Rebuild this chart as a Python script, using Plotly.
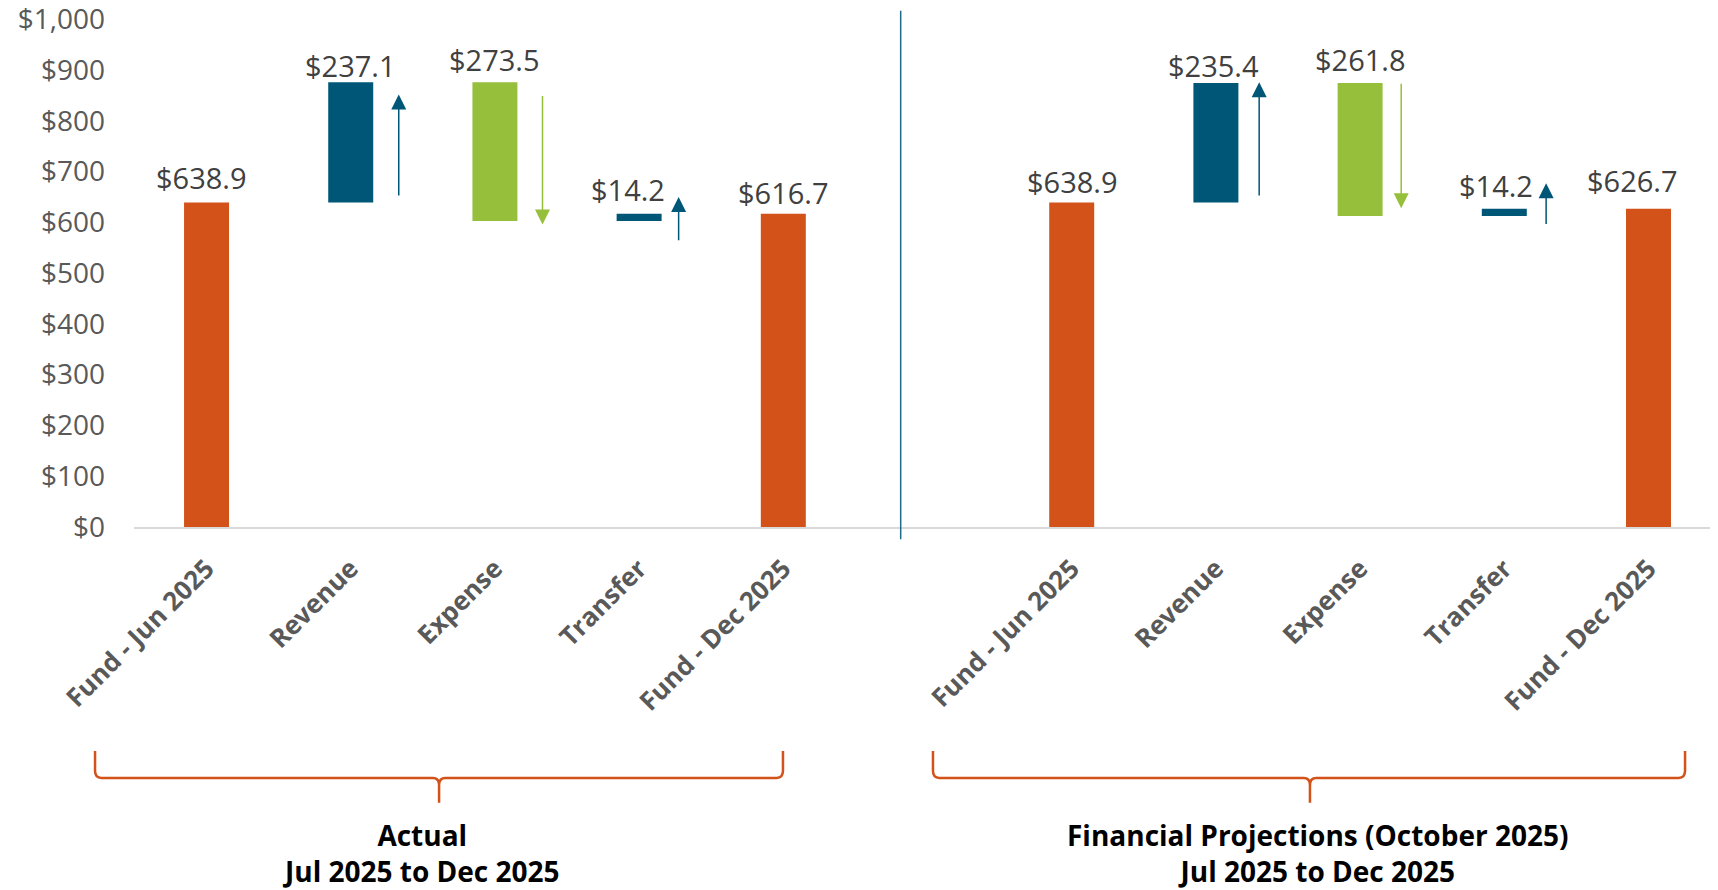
import plotly.graph_objects as go

# ---------------- data ----------------
categories = ["Fund - Jun 2025", "Revenue", "Expense", "Transfer", "Fund - Dec 2025"]
measures = ["total", "increase", "decrease", "increase", "total"]

actual_values = [638.9, 237.1, 273.5, 14.2, 616.7]
projection_values = [638.9, 235.4, 261.8, 14.2, 626.7]

panel_titles = ["Actual", "Financial Projections (October 2025)"]
panel_periods = ["Jul 2025 to Dec 2025", "Jul 2025 to Dec 2025"]

# decorative direction arrows (value at tail, value at head) for Revenue, Expense, Transfer
actual_arrow_tail = [650, 852, 562]
actual_arrow_head = [852, 596, 650]
projection_arrow_tail = [650, 876, 594]
projection_arrow_head = [876, 628, 677]

y_ticks = [0, 100, 200, 300, 400, 500, 600, 700, 800, 900, 1000]
y_ticktext = [f"${v:,}" for v in y_ticks]

# ---------------- style ----------------
C_TOTAL = "#D35219"
C_UP = "#005677"
C_DOWN = "#96C03B"
FONT = "Open Sans"
BAR_W = 0.312
panel_x0 = [0, 6]
arrow_dx = [[0.333, 0.33, 0.274], [0.30, 0.285, 0.29]]
label_dx = [[-5, 0, 0, -11, 0], [1, -2, 0, -8, -16]]
label_dy = [[4, -5, 1, 3, 0], [0, -4, 2, 2, 7]]


def floating(values, kinds):
    bases, heights, cur = [], [], 0.0
    for v, k in zip(values, kinds):
        if k == "total":
            bases.append(0.0); heights.append(v); cur = v
        elif k == "increase":
            bases.append(cur); heights.append(v); cur += v
        else:
            bases.append(cur - v); heights.append(v); cur -= v
    return bases, heights


color_of = {"total": C_TOTAL, "increase": C_UP, "decrease": C_DOWN}

fig = go.Figure()
annotations = []
panels = [(actual_values, actual_arrow_tail, actual_arrow_head),
          (projection_values, projection_arrow_tail, projection_arrow_head)]

tickvals, ticktext = [], []
for p, (vals, a_tail, a_head) in enumerate(panels):
    xs = [panel_x0[p] + i for i in range(len(categories))]
    bases, heights = floating(vals, measures)
    fig.add_trace(go.Bar(
        x=xs, y=heights, base=bases, width=BAR_W,
        marker=dict(color=[color_of[m] for m in measures], line=dict(width=0)),
        hoverinfo="skip", showlegend=False,
    ))
    tickvals += xs
    ticktext += [f"<b>{c}</b>" for c in categories]
    for i, (x, b, h) in enumerate(zip(xs, bases, heights)):
        annotations.append(dict(
            x=x, y=b + h, xref="x", yref="y", text=f"${vals[i]:,.1f}",
            showarrow=False, yanchor="bottom", yshift=label_dy[p][i], xshift=label_dx[p][i],
            font=dict(family=FONT, size=29, color="#404040"),
        ))
    for j, idx in enumerate([1, 2, 3]):
        col = color_of[measures[idx]]
        ax_x = xs[idx] + arrow_dx[p][j]
        annotations.append(dict(
            x=ax_x, y=a_head[j], ax=ax_x, ay=a_tail[j],
            xref="x", yref="y", axref="x", ayref="y", text="",
            showarrow=True, arrowhead=2, arrowsize=2.0, arrowwidth=1.5,
            arrowcolor=col, standoff=0, startstandoff=0,
        ))

# panel captions (two lines each)
caption_x = [1.487, 7.705]
for p in range(2):
    annotations.append(dict(
        x=caption_x[p], y=-0.6417, xref="x", yref="paper",
        text=f"<b>{panel_titles[p]}<br>{panel_periods[p]}</b>",
        showarrow=False, xanchor="center", yanchor="middle", align="center",
        font=dict(family=FONT, size=28, color="#000000"), borderpad=0,
    ))

# brackets under each panel (paper units)
shapes = []
brackets = [(-0.0246, 0.4097, 0.1926), (0.5044, 0.9792, 0.7424)]
y_top, y_line, y_tip = -0.441, -0.494, -0.543
rx, ry = 0.004, 0.014
for x0, x1, xc in brackets:
    path = (f"M {x0},{y_top} L {x0},{y_line + ry} Q {x0},{y_line} {x0 + rx},{y_line} "
            f"L {xc - rx},{y_line} Q {xc},{y_line} {xc},{y_line - ry} L {xc},{y_tip} "
            f"M {xc},{y_line - ry} Q {xc},{y_line} {xc + rx},{y_line} "
            f"L {x1 - rx},{y_line} Q {x1},{y_line} {x1},{y_line + ry} L {x1},{y_top}")
    shapes.append(dict(type="path", path=path, xref="paper", yref="paper",
                       line=dict(color=C_TOTAL, width=2.5)))

# divider between panels
shapes.append(dict(type="line", x0=4.814, x1=4.814, y0=-0.024, y1=1.016,
                   xref="x", yref="paper", line=dict(color="#1F6A8A", width=1.5)))

fig.update_layout(
    width=1710, height=882,
    margin=dict(l=126, r=0, t=11, b=363, autoexpand=False),
    plot_bgcolor="white", paper_bgcolor="white",
    font=dict(family=FONT),
    barmode="overlay",
    annotations=annotations, shapes=shapes,
    xaxis=dict(
        range=[-0.503, 10.482], tickvals=tickvals, ticktext=ticktext,
        tickangle=-45, tickfont=dict(family=FONT, size=26, color="#595959"),
        showgrid=False, zeroline=False, showline=True, linecolor="#D9D9D9", linewidth=2,
        ticks="", ticklabelstandoff=14, fixedrange=True, automargin=False,
    ),
    yaxis=dict(
        range=[0, 1000.5], tickvals=y_ticks, ticktext=y_ticktext,
        tickfont=dict(family=FONT, size=28, color="#595959"),
        showgrid=False, zeroline=False, showline=False, ticks="",
        ticklabelstandoff=28, fixedrange=True, automargin=False,
        ticklabeloverflow="allow",
    ),
)

fig.write_html("out.html")
